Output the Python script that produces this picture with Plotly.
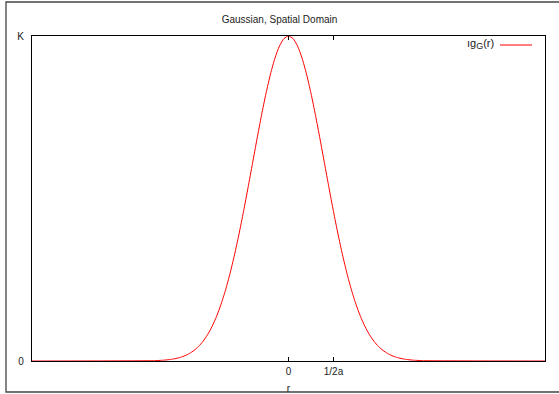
import plotly.graph_objects as go

# r in units of 1/(2a); value in units of K
r_vals = [-5.7, -3.0, -2.9, -2.8, -2.7, -2.6, -2.5, -2.4, -2.3, -2.2, -2.1,
          -2.0, -1.9, -1.8, -1.7, -1.6, -1.5, -1.4, -1.3, -1.2, -1.1,
          -1.0, -0.9, -0.8, -0.7, -0.6, -0.5, -0.4, -0.3, -0.2, -0.1,
          0.0, 0.1, 0.2, 0.3, 0.4, 0.5, 0.6, 0.7, 0.8, 0.9,
          1.0, 1.1, 1.2, 1.3, 1.4, 1.5, 1.6, 1.7, 1.8, 1.9,
          2.0, 2.1, 2.2, 2.3, 2.4, 2.5, 2.6, 2.7, 2.8, 2.9, 3.0, 5.7]
g_vals = [0.0, 0.0009, 0.0015, 0.0023, 0.0035, 0.0052, 0.0078, 0.0114, 0.0164, 0.0233, 0.0325,
          0.0447, 0.0605, 0.0807, 0.1059, 0.1368, 0.1741, 0.2181, 0.2690, 0.3267, 0.3906,
          0.4598, 0.5329, 0.6082, 0.6834, 0.7560, 0.8234, 0.8831, 0.9325, 0.9694, 0.9923,
          1.0, 0.9923, 0.9694, 0.9325, 0.8831, 0.8234, 0.7560, 0.6834, 0.6082, 0.5329,
          0.4598, 0.3906, 0.3267, 0.2690, 0.2181, 0.1741, 0.1368, 0.1059, 0.0807, 0.0605,
          0.0447, 0.0325, 0.0233, 0.0164, 0.0114, 0.0078, 0.0052, 0.0035, 0.0023, 0.0015, 0.0009, 0.0]

x_tick_vals = [0, 1]
x_tick_text = ["0", "1/2a"]
y_tick_vals = [0, 1]
y_tick_text = ["0", "K"]

W, H = 559, 394
L, R, T, B = 32, 14, 36, 33
pw, ph = W - L - R, H - T - B

def px(x):
    return (x - L) / pw

def py(y):
    return (H - B - y) / ph

font = dict(family="Liberation Sans, Arial, sans-serif", size=10, color="#222222")

fig = go.Figure()
fig.add_trace(go.Scatter(x=r_vals, y=g_vals, mode="lines",
                         line=dict(color="#ff0000", width=1, shape="spline", smoothing=0.6),
                         showlegend=False, hoverinfo="skip"))

fig.update_layout(
    width=W, height=H,
    margin=dict(l=L, r=R, t=T, b=B, autoexpand=False),
    paper_bgcolor="white", plot_bgcolor="white",
    font=font,
    showlegend=False,
    title=dict(text="Gaussian, Spatial Domain", x=0.5, xanchor="center",
               y=1 - 19 / H, yanchor="middle", font=dict(size=10, color="#222222"),
               automargin=False),
    xaxis=dict(range=[-5.7, 5.7], tickvals=x_tick_vals, ticktext=x_tick_text,
               ticks="inside", ticklen=4, tickcolor="#000000", showgrid=False,
               zeroline=False, showline=True, linecolor="#000000", linewidth=1.2,
               mirror="ticks", title=dict(text="r", standoff=8, font=dict(size=10)),
               tickfont=dict(size=10), ticklabelstandoff=1, automargin=False),
    yaxis=dict(range=[0, 1], tickvals=y_tick_vals, ticktext=y_tick_text,
               ticks="", showgrid=False, zeroline=False, showline=True,
               linecolor="#000000", linewidth=1.2, mirror=True,
               tickfont=dict(size=10), ticklabelstandoff=5, automargin=False),
)

# outer frame (gnuplot canvas border)
fig.add_shape(type="rect", xref="paper", yref="paper",
              x0=px(6), x1=px(W + 5), y0=py(392), y1=py(2),
              line=dict(color="#444444", width=1.3), layer="below")

# legend entry (gnuplot style: text then sample line)
fig.add_annotation(xref="paper", yref="paper", x=px(496), y=py(44),
                   xanchor="right", yanchor="middle", showarrow=False,
                   text="ıg<sub><span style='font-size:9px'>G</span></sub>(r)",
                   font=dict(size=11, color="#222222"))
fig.add_shape(type="line", xref="paper", yref="paper",
              x0=px(500), x1=px(532), y0=py(45), y1=py(45),
              line=dict(color="#ff0000", width=1))

fig.write_html("out.html")
